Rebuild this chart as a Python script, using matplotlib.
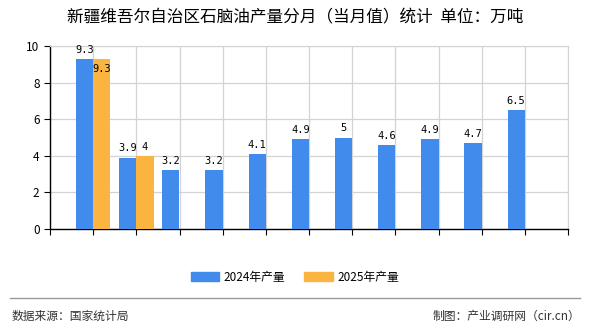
import matplotlib
matplotlib.use('Agg')
import matplotlib.pyplot as plt
from matplotlib.lines import Line2D
import numpy as np

plt.rcParams['font.family'] = ['Noto Sans CJK SC', 'DejaVu Sans']

months = ['1-2月', '3月', '4月', '5月', '6月', '7月', '8月', '9月', '10月', '11月', '12月']
prod_2024 = [9.3, 3.9, 3.2, 3.2, 4.1, 4.9, 5, 4.6, 4.9, 4.7, 6.5]
prod_2025 = [9.3, 4]
blue = '#418BEC'
orange = '#FBB440'

fig = plt.figure(figsize=(5.9, 3.3), dpi=100)
ax = fig.add_axes([50 / 590, 1 - 229 / 330, 518 / 590, 183 / 330])

x = np.arange(1, len(months) + 1)
w = 0.4
ax.bar(x - w / 2, prod_2024, width=w, color=blue, zorder=3)
ax.bar(x[:len(prod_2025)] + w / 2, prod_2025, width=w, color=orange, zorder=3)

def fmt(v):
    return ('%g' % v)

for xi, v in zip(x, prod_2024):
    ax.annotate(fmt(v), (xi - w / 2, v), xytext=(0, 3), textcoords='offset points',
                ha='center', va='bottom', fontsize=7.5, family=['DejaVu Sans Mono'])
for i, (xi, v) in enumerate(zip(x, prod_2025)):
    # first one collides with the blue label, so it sits inside the bar like in the source
    dy = -11 if i == 0 else 3
    ax.annotate(fmt(v), (xi + w / 2, v), xytext=(0, dy), textcoords='offset points',
                ha='center', va='bottom', fontsize=7.5, family=['DejaVu Sans Mono'])

ax.set_xlim(0, 12)
ax.set_ylim(0, 10)
ax.set_xticks(np.arange(0, 13))
ax.set_xticks(x, minor=True)
ax.set_xticklabels([])
ax.set_xticklabels(months, minor=True)
ax.tick_params(axis='x', which='minor', length=0, labelsize=8.5, pad=4)
ax.tick_params(axis='x', which='major', length=4, direction='out', color='black')
ax.set_yticks(np.arange(0, 11, 2))
ax.tick_params(axis='y', labelsize=8.5, length=4, color='black')
ax.grid(True, which='major', color='#D3D3D3', linewidth=0.9, zorder=0)
ax.set_axisbelow(True)
for s in ['top', 'right']:
    ax.spines[s].set_color('#D3D3D3')
for s in ['left', 'bottom']:
    ax.spines[s].set_color('black')
    ax.spines[s].set_linewidth(1.0)

fig.text(0.5, 1 - 18 / 330, '新疆维吾尔自治区石脑油产量分月（当月值）统计  单位：万吨',
         ha='center', va='center', fontsize=12, weight='medium', color='black')

handles = [plt.Rectangle((0, 0), 1, 1, color=blue), plt.Rectangle((0, 0), 1, 1, color=orange)]
fig.legend(handles, ['2024年产量', '2025年产量'], loc='center', bbox_to_anchor=(0.5, 1 - 277 / 330),
           ncol=2, frameon=False, fontsize=8.5, handlelength=2.4, handleheight=0.9, columnspacing=1.6,
           handletextpad=0.4)

fig.add_artist(Line2D([10 / 590, 580 / 590], [1 - 298 / 330] * 2, color='#999999', linewidth=1))
fig.text(12 / 590, 1 - 316 / 330, '数据来源：国家统计局', ha='left', va='center', fontsize=8.5, color='#333333')
fig.text(580 / 590, 1 - 316 / 330, '制图：产业调研网（cir.cn）', ha='right', va='center', fontsize=8.5, color='#333333')

fig.savefig('out.png', dpi=100)
